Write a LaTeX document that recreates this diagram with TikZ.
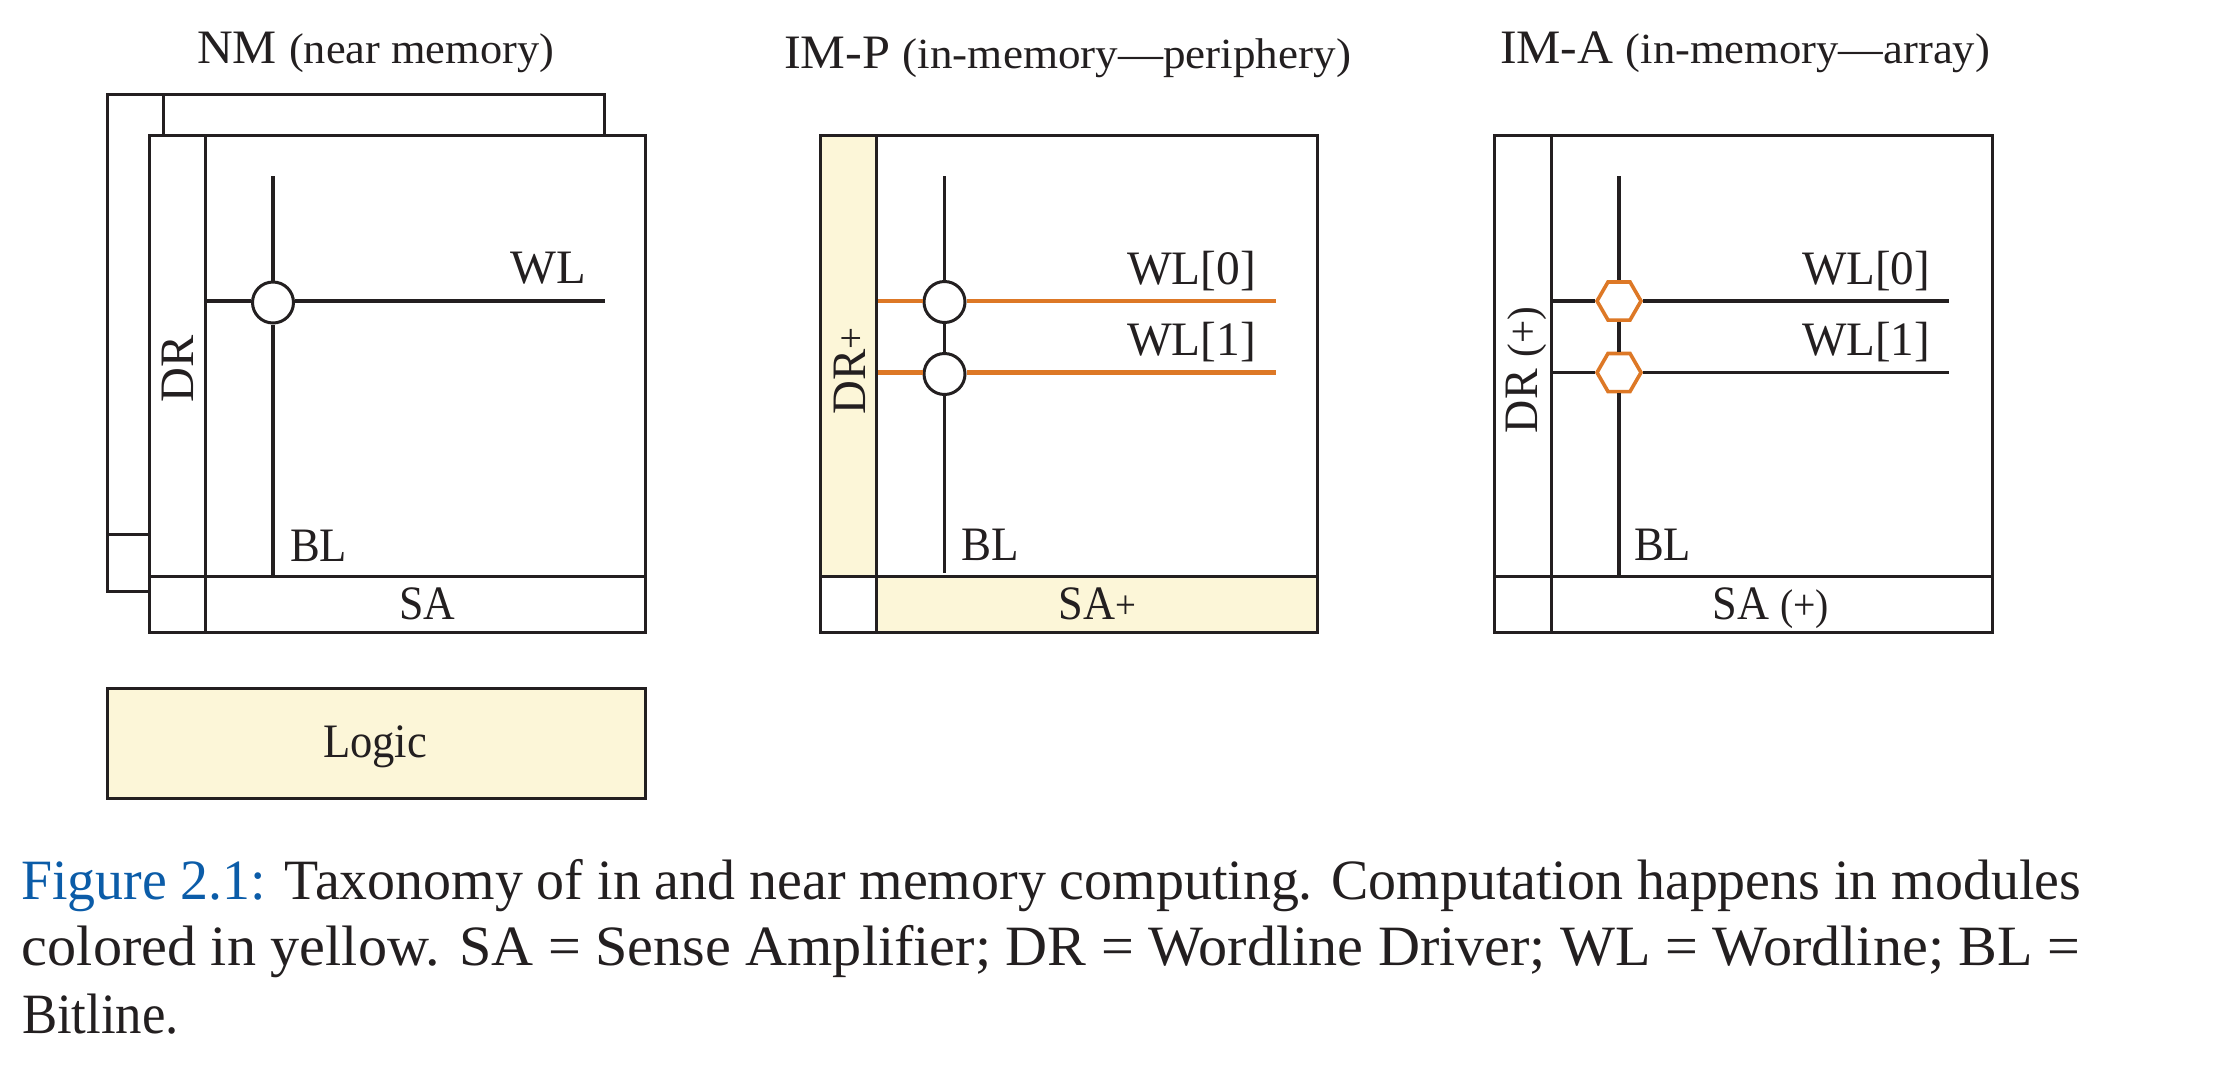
\documentclass[tikz,border=0pt]{standalone}
\usepackage{fontspec}
\usepackage{graphicx}
\setmainfont{Liberation Serif}
\usetikzlibrary{shapes.geometric}
\definecolor{ink}{HTML}{231F20}
\definecolor{cream}{HTML}{FCF6D8}
\definecolor{wlorange}{HTML}{DD7826}
\definecolor{capblue}{HTML}{0B5CA8}
\newcommand{\fitw}[2]{\resizebox{#1pt}{\height}{#2}}
\newcommand{\lab}{\fontsize{48}{54}\selectfont}
\newcommand{\labs}{\fontsize{43}{48}\selectfont}
\newcommand{\capf}{\fontsize{57}{64}\selectfont}
\newcommand{\plusf}{\raisebox{1pt}{\fontsize{40}{42}\selectfont +}}
\tikzset{
  box/.style={draw=ink,line width=3pt},
  yel/.style={box,fill=cream},
  thick wire/.style={draw=ink,line width=4.2pt},
  thin wire/.style={draw=ink,line width=3pt},
  orange wire/.style={draw=wlorange,line width=4.2pt},
  txt/.style={inner sep=0pt,outer sep=0pt,anchor=base west,text=ink},
  vtxt/.style={txt,rotate=90},
  cell/.style={circle,draw=ink,line width=3pt,fill=white,minimum size=41pt,inner sep=0pt},
  hexcell/.style={regular polygon,regular polygon sides=6,draw=wlorange,line width=3.6pt,fill=white,minimum size=44pt,inner sep=0pt},
}
\begin{document}
\begin{tikzpicture}[x=1pt,y=-1pt]
\useasboundingbox (0,0) rectangle (2224,1072);
% ---------- NM
\draw[box] (107.5,135) -- (107.5,94) -- (604,94) -- (604,135);
\draw[box] (163,94) -- (163,135);
\draw[box] (107.5,135) -- (107.5,591) -- (149,591);
\draw[box] (107.5,534) -- (149,534);
\draw[box,fill=white] (149,135) rectangle (645.5,632);
\draw[box] (205,135) -- (205,632);
\draw[box] (149,576) -- (645.5,576);
\node[yel,minimum width=538pt,minimum height=110pt,inner sep=0pt,outer sep=0pt] (logic) at (376.5,743) {};
\node[cell] (nmc) at (273,302.5) {};
\coordinate (nmT) at (273,176);
\coordinate (nmB) at (273,576);
\coordinate (nmL) at (205,301);
\coordinate (nmR) at (605,301);
\draw[thick wire] (nmT) -- (nmc);
\draw[thick wire] (nmc) -- (nmB);
\draw[thick wire] (nmL) -- (nmc.west |- nmL);
\draw[thick wire] (nmc.east |- nmR) -- (nmR);
\node[txt] (t1) at (197,63) {\fitw{357}{\lab NM \labs (near memory)}};
\node[txt] (nmwl) at (510.5,283) {\fitw{75.5}{\lab WL}};
\node[txt] (nmbl) at (290,561) {\fitw{57}{\lab BL}};
\node[txt] (nmsa) at (399,619) {\fitw{56}{\lab SA}};
\node[vtxt] (nmdr) at (193,402) {\fitw{67}{\lab DR}};
\node[txt] (logt) at (323,757) {\fitw{104}{\lab Logic}};
% ---------- IM-P
\draw[yel] (820,135) rectangle (876,576);
\draw[box,fill=white] (876,135) rectangle (1317,576);
\draw[box,fill=white] (820,576) rectangle (876,632);
\draw[yel] (876,576) rectangle (1317,632);
\node[cell] (pc0) at (944.5,302) {};
\node[cell] (pc1) at (944.5,374) {};
\coordinate (pT) at (944.5,176);
\coordinate (pB) at (944.5,573);
\coordinate (p0L) at (878,301);
\coordinate (p0R) at (1275.5,301);
\coordinate (p1L) at (878,372.5);
\coordinate (p1R) at (1275.5,372.5);
\draw[thin wire] (pT) -- (pc0);
\draw[thin wire] (pc0) -- (pc1);
\draw[thin wire] (pc1) -- (pB);
\draw[orange wire] (p0L) -- (pc0.west |- p0L);
\draw[orange wire] (pc0.east |- p0R) -- (p0R);
\draw[orange wire] (p1L) -- (pc1.west |- p1L);
\draw[orange wire] (pc1.east |- p1R) -- (p1R);
\node[txt] (t2) at (784,68) {\fitw{567}{\lab IM-P \labs (in-memory—periphery)}};
\node[txt] (pw0) at (1127,284) {\fitw{129}{\lab WL[0]}};
\node[txt] (pw1) at (1127,355) {\fitw{129}{\lab WL[1]}};
\node[txt] (pbl) at (961.5,560) {\fitw{57.5}{\lab BL}};
\node[txt] (psa) at (1058.5,619) {\fitw{77.5}{\lab SA\plusf}};
\node[vtxt] (pdr) at (865,414) {\fitw{87}{\lab DR\plusf}};
% ---------- IM-A
\draw[box] (1494.5,135) rectangle (1992,632);
\draw[box] (1551,135) -- (1551,632);
\draw[box] (1494.5,576) -- (1992,576);
\node[hexcell] (ah0) at (1619,301) {};
\node[hexcell] (ah1) at (1619,372.5) {};
\coordinate (aT) at (1619,176);
\coordinate (aB) at (1619,576);
\coordinate (a0L) at (1551,301);
\coordinate (a0R) at (1949,301);
\coordinate (a1L) at (1551,372.5);
\coordinate (a1R) at (1949,372.5);
\draw[thick wire] (aT) -- (ah0);
\draw[thick wire] (ah0) -- (ah1);
\draw[thick wire] (ah1) -- (aB);
\draw[thick wire] (a0L) -- (ah0);
\draw[thick wire] (ah0) -- (a0R);
\draw[thin wire] (a1L) -- (ah1);
\draw[thin wire] (ah1) -- (a1R);
\node[txt] (t3) at (1500,63) {\fitw{490}{\lab IM-A \labs (in-memory—array)}};
\node[txt] (aw0) at (1802,284) {\fitw{128}{\lab WL[0]}};
\node[txt] (aw1) at (1802,355) {\fitw{128}{\lab WL[1]}};
\node[txt] (abl) at (1634,560) {\fitw{57}{\lab BL}};
\node[txt] (asa) at (1712.5,619) {\fitw{116.5}{\lab SA \labs(+)}};
\node[vtxt] (adr) at (1537.5,433) {\fitw{126}{\lab DR \labs(+)}};
% ---------- caption
\node[txt] (c1) at (21,899) {\fitw{2060}{\capf\textcolor{capblue}{Figure 2.1:} Taxonomy of in and near memory computing. Computation happens in modules}};
\node[txt] (c2) at (22,965) {\fitw{2058}{\capf colored in yellow. SA = Sense Amplifier; DR = Wordline Driver; WL = Wordline; BL =}};
\node[txt] (c3) at (22,1033) {\fitw{157}{\capf Bitline.}};
\end{tikzpicture}
\end{document}
